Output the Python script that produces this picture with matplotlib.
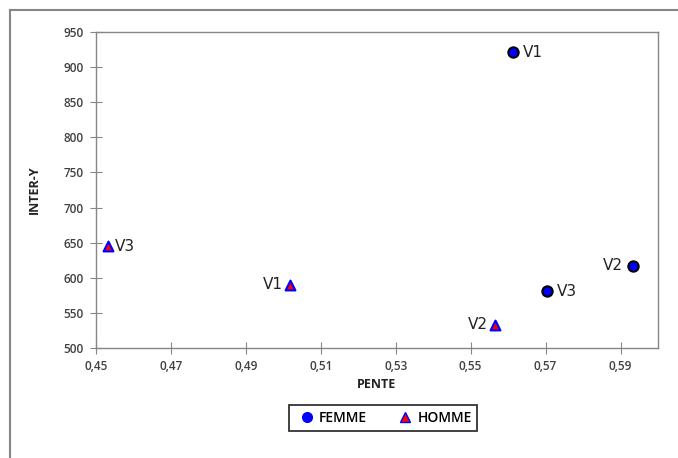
import matplotlib
matplotlib.use("Agg")
import matplotlib.pyplot as plt
from matplotlib.lines import Line2D
from matplotlib.ticker import FuncFormatter

# data
femme_x = [0.5613, 0.5932, 0.5703]
femme_y = [921, 617, 581]
femme_lab = ["V1", "V2", "V3"]
femme_side = ["right", "left", "right"]

homme_x = [0.4532, 0.5018, 0.5565]
homme_y = [645, 590, 533]
homme_lab = ["V3", "V1", "V2"]
homme_side = ["right", "left", "left"]

xticks = [0.45, 0.47, 0.49, 0.51, 0.53, 0.55, 0.57, 0.59]
yticks = [500, 550, 600, 650, 700, 750, 800, 850, 900, 950]

grey = "#868686"

fig = plt.figure(figsize=(6.78, 4.58), dpi=100)
ax = fig.add_axes([96 / 678, 1 - 348 / 458, 562 / 678, 316 / 458])

ax.scatter(femme_x, femme_y, s=55, marker="o", c="#0000ff",
           edgecolors="black", linewidths=1.5, zorder=3)
ax.scatter(homme_x, homme_y, s=50, marker="^", c="#ff0000",
           edgecolors="#0000ff", linewidths=1.5, zorder=3)

def put_labels(xs, ys, labs, sides, gap):
    for x, y, t, s in zip(xs, ys, labs, sides):
        dx = gap if s == "right" else -gap
        ax.annotate(t, (x, y), xytext=(dx, 0), textcoords="offset points",
                    ha="left" if s == "right" else "right", va="center",
                    fontsize=11, color="#222222")

put_labels(femme_x, femme_y, femme_lab, femme_side, 7)
put_labels(homme_x, homme_y, homme_lab, homme_side, 5)

ax.set_xlim(0.45, 0.6)
ax.set_ylim(500, 950)
ax.set_xticks(xticks)
ax.set_yticks(yticks)
ax.xaxis.set_major_formatter(FuncFormatter(lambda v, p: ("%.2f" % v).replace(".", ",")))
for lbl in ax.get_xticklabels() + ax.get_yticklabels():
    lbl.set_fontfamily("Open Sans")
    lbl.set_fontweight("semibold")
    lbl.set_fontsize(8.5)
    lbl.set_color("#404040")
ax.tick_params(direction="inout", length=8, width=0.8, color=grey, pad=5)

for sp in ax.spines.values():
    sp.set_color(grey)
    sp.set_linewidth(1)

ax.set_xlabel("PENTE", fontfamily="Open Sans", fontweight="bold", fontsize=9,
              color="#222222", labelpad=3)
ax.set_ylabel("INTER-Y", fontfamily="Open Sans", fontweight="bold", fontsize=9,
              color="#222222", labelpad=16)

handles = [
    Line2D([], [], ls="", marker="o", markersize=7, markerfacecolor="#0000ff",
           markeredgecolor="#0000ff"),
    Line2D([], [], ls="", marker="^", markersize=7, markerfacecolor="#ff0000",
           markeredgecolor="#0000ff"),
]
leg = fig.legend(handles, ["FEMME", "HOMME"], loc="center",
                 bbox_to_anchor=(383 / 678, 1 - 418 / 458), ncol=2,
                 frameon=True, fancybox=False, handletextpad=0.0,
                 columnspacing=1.8, borderpad=0.4, handlelength=1.8,
                 prop=dict(family="Open Sans", weight="semibold", size=10))
leg.get_frame().set_edgecolor("black")
leg.get_frame().set_linewidth(1.3)

# outer chart border (left and top visible)
fig.add_artist(Line2D([10 / 678, 10 / 678], [0, 1 - 10 / 458], color=grey, lw=1.5,
                      transform=fig.transFigure))
fig.add_artist(Line2D([10 / 678, 1], [1 - 10 / 458, 1 - 10 / 458], color=grey, lw=1.5,
                      transform=fig.transFigure))

fig.savefig("out.png", dpi=100)
